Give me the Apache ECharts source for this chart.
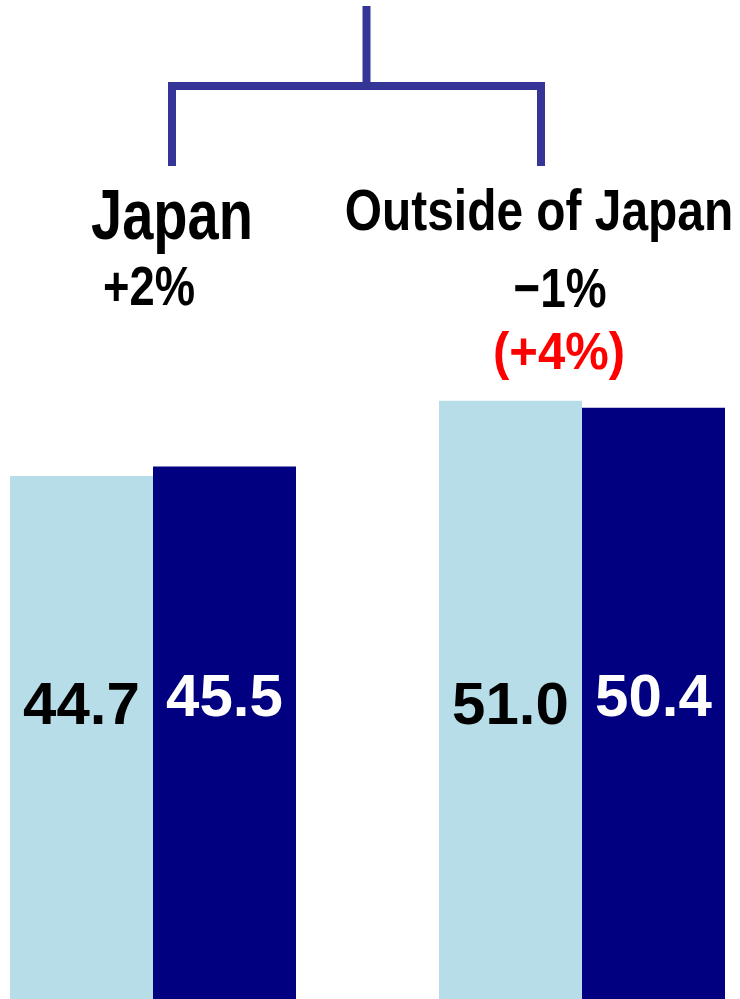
<!DOCTYPE html>
<html>
<head>
<meta charset="utf-8">
<script src="https://cdn.jsdelivr.net/npm/echarts@6/dist/echarts.min.js"></script>
<style>
  html, body { margin: 0; padding: 0; background: #fff; }
  #chart { width: 740px; height: 999px; }
</style>
</head>
<body>
<div id="chart"></div>
<script>
const categories = ['Japan', 'Outside of Japan']
const growthLabels = ['+2%', '−1%']
const localGrowthLabels = ['', '(+4%)']
const previousValues = [44.7, 51.0]
const currentValues = [45.5, 50.4]

const FONT = "'Liberation Sans', Arial, sans-serif"
const BRACKET = '#353597'

const chart = echarts.init(document.getElementById('chart'))

// header texts are squeezed a bit to look like the narrow gothic face of the original
const textEl = (text, x, y, size, sx, color) => ({
  type: 'text',
  x,
  y,
  scaleX: sx,
  style: {
    text,
    fill: color || '#000',
    font: `bold ${size}px ${FONT}`,
    textAlign: 'center',
    textVerticalAlign: 'middle'
  }
})

const valueLabel = (color, distance) => ({
  show: true,
  position: 'insideBottom',
  distance,
  color,
  fontFamily: FONT,
  fontWeight: 'bold',
  fontSize: 60,
  formatter: (p) => p.value.toFixed(1)
})

const option = {
  animation: false,
  // ticks sit on the grid edges (boundaryGap false) so the two groups land where they should
  grid: { left: 153, right: 158, top: 293, bottom: 0 },
  xAxis: {
    type: 'category',
    data: categories,
    boundaryGap: false,
    show: false
  },
  yAxis: {
    type: 'value',
    min: 1,
    max: 60,
    show: false
  },
  series: [
    {
      name: 'Previous',
      type: 'bar',
      data: previousValues,
      barWidth: 143,
      barGap: '0%',
      clip: false,
      itemStyle: { color: '#b7dde8' },
      label: valueLabel('#000', 274)
    },
    {
      name: 'Current',
      type: 'bar',
      data: currentValues,
      barWidth: 143,
      clip: false,
      itemStyle: { color: '#000080' },
      label: valueLabel('#fff', 282)
    }
  ],
  graphic: [
    {
      type: 'polyline',
      shape: { points: [[366.5, 6], [366.5, 86]] },
      style: { stroke: BRACKET, lineWidth: 8, fill: null }
    },
    {
      type: 'polyline',
      shape: { points: [[172, 166], [172, 86], [541, 86], [541, 166]] },
      style: { stroke: BRACKET, lineWidth: 8, fill: null, lineJoin: 'miter', lineCap: 'butt' }
    },
    textEl(categories[0], 172, 220, 70, 0.8),
    textEl(growthLabels[0], 149, 290, 56, 0.81),
    textEl(categories[1], 539, 214, 57, 0.84),
    textEl(growthLabels[1], 560, 292, 56, 0.82),
    textEl(localGrowthLabels[1], 559, 355, 51, 0.96, '#ff0000')
  ]
}

chart.setOption(option)
</script>
</body>
</html>
